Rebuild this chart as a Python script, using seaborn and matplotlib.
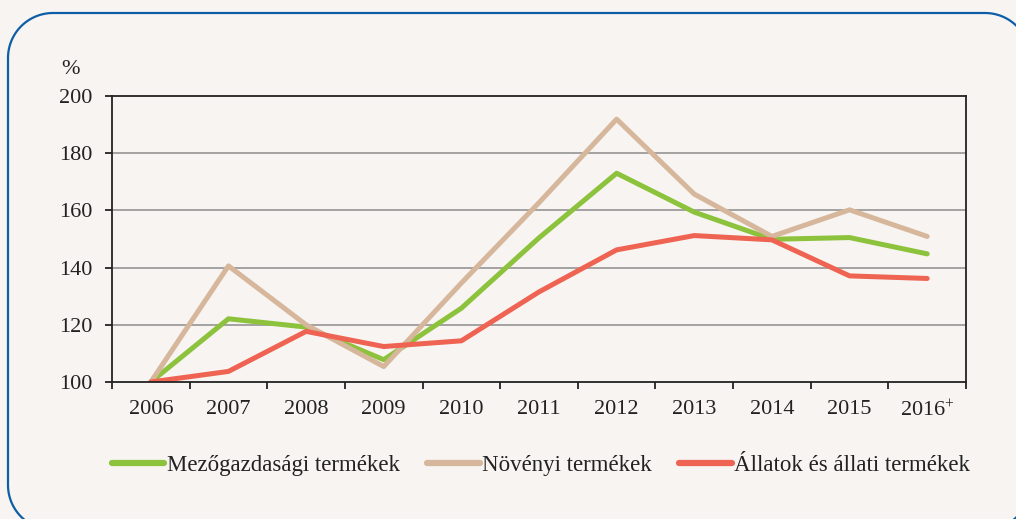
import numpy as np
import pandas as pd
import seaborn as sns
import matplotlib.pyplot as plt

years = ["2006", "2007", "2008", "2009", "2010", "2011", "2012", "2013", "2014", "2015", "2016$^{+}$"]
mezogazdasagi = [100, 122.1, 119.2, 107.8, 125.8, 150.4, 173.0, 159.4, 149.9, 150.5, 144.8]
novenyi = [100, 140.6, 120.0, 105.4, 134.6, 162.7, 191.9, 165.7, 150.9, 160.2, 150.9]
allatok = [100, 103.7, 117.7, 112.4, 114.4, 131.5, 146.2, 151.2, 149.7, 137.1, 136.2]
series = ["Mezőgazdasági termékek", "Növényi termékek", "Állatok és állati termékek"]
colors = ["#8cc23c", "#d6b79c", "#ee6352"]

df = pd.DataFrame({"year": years, series[0]: mezogazdasagi, series[1]: novenyi, series[2]: allatok})
long = df.melt(id_vars="year", var_name="series", value_name="value")

sns.set_style("white")
plt.rcParams["font.family"] = ["Liberation Serif", "DejaVu Serif"]
plt.rcParams["mathtext.fontset"] = "custom"
plt.rcParams["mathtext.rm"] = "Liberation Serif"
plt.rcParams["mathtext.it"] = "Liberation Serif"

bg = "#f7f4f1"
ink = "#222222"
W, H = 1016, 519
fig = plt.figure(figsize=(W / 100, H / 100), dpi=100, facecolor=bg)

# background layer in pixel units (y from the bottom) for the rounded frame
frame = fig.add_axes([0, 0, 1, 1])
frame.set_xlim(0, W)
frame.set_ylim(0, H)
frame.axis("off")
left, right, top, bottom, r = 8, 1030, H - 13, -11, 45
fx, fy = [], []
for cx, cy, a0 in [(right - r, top - r, 0), (left + r, top - r, 90),
                   (left + r, bottom + r, 180), (right - r, bottom + r, 270)]:
    t = np.radians(np.linspace(a0, a0 + 90, 30))
    fx.extend(cx + r * np.cos(t))
    fy.extend(cy + r * np.sin(t))
fx.append(fx[0])
fy.append(fy[0])
frame.plot(fx, fy, color="#0d5ea6", lw=1.6, clip_on=False)

ax = fig.add_axes([112 / W, 1 - 382 / H, (966 - 112) / W, (382 - 96) / H])
ax.set_facecolor(bg)

for y in [120, 140, 160, 180]:
    ax.axhline(y, color="#8c8c8c", lw=1.1, zorder=0)

sns.lineplot(data=long, x="year", y="value", hue="series", palette=colors,
             hue_order=series, lw=3.6, ax=ax, sort=False, legend=True)

ax.set_xlim(-0.5, 10.5)
ax.set_ylim(100, 200)
ax.set_yticks([100, 120, 140, 160, 180, 200])
ax.set_xticks([i - 0.5 for i in range(12)])
ax.set_xticklabels([])
ax.set_xticks(range(11), minor=True)
ax.set_xticklabels(years, minor=True)
ax.tick_params(axis="x", which="major", bottom=True, direction="out", length=5, width=1.3, color=ink)
ax.tick_params(axis="x", which="minor", bottom=False, length=0, pad=13, labelsize=16, labelcolor=ink)
ax.tick_params(axis="y", left=True, direction="out", length=5, width=1.3, color=ink,
               pad=9, labelsize=16, labelcolor=ink)
ax.set_xlabel("")
ax.set_ylabel("")
for s in ax.spines.values():
    s.set_color(ink)
    s.set_linewidth(1.3)

fig.text(70 / W, 1 - 70 / H, "%", fontsize=16, color=ink, va="center", ha="center")

handles, labels = ax.get_legend_handles_labels()
ax.legend(handles, labels, loc="center", bbox_to_anchor=(541 / W, 1 - 465 / H),
          bbox_transform=fig.transFigure, ncol=3, frameon=False, fontsize=16.5,
          handlelength=2.3, handletextpad=0.1, columnspacing=1.2,
          labelcolor=ink)
for line in ax.get_legend().get_lines():
    line.set_linewidth(4.5)

fig.savefig("out.png", dpi=100, facecolor=bg)
